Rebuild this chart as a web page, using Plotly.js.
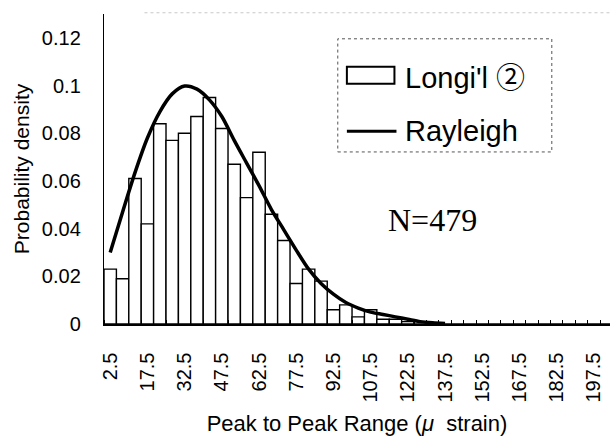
<!DOCTYPE html>
<html>
<head>
<meta charset="utf-8">
<script src="https://cdn.plot.ly/plotly-3.0.1.min.js"></script>
<style>
  html, body { margin: 0; padding: 0; background: #fff; }
  #chart { width: 610px; height: 438px; }
</style>
</head>
<body>
<div id="chart"></div>
<script>
// Bin centres of the peak-to-peak range histogram (micro-strain, 5 wide)
const binCenters = [
  2.5, 7.5, 12.5, 17.5, 22.5, 27.5, 32.5, 37.5, 42.5, 47.5,
  52.5, 57.5, 62.5, 67.5, 72.5, 77.5, 82.5, 87.5, 92.5, 97.5,
  102.5, 107.5, 112.5, 117.5, 122.5, 127.5, 132.5, 137.5, 142.5, 147.5,
  152.5, 157.5, 162.5, 167.5, 172.5, 177.5, 182.5, 187.5, 192.5, 197.5,
  202.5
];

// Measured probability density per bin (Longi'l 2, N=479)
const measuredDensity = [
  0.023, 0.019, 0.061, 0.042, 0.084, 0.077, 0.080, 0.087, 0.095, 0.082,
  0.067, 0.053, 0.072, 0.046, 0.035, 0.017, 0.023, 0.018, 0.006, 0.008,
  0.003, 0.006, 0.002, 0.002, 0.001, 0.001, 0, 0, 0, 0,
  0, 0, 0, 0, 0, 0, 0, 0, 0, 0,
  0
];

// Fitted Rayleigh density at the bin centres
const rayleighX = [
  2.5, 7.5, 12.5, 17.5, 22.5, 27.5, 32.5, 37.5, 42.5, 47.5,
  52.5, 57.5, 62.5, 67.5, 72.5, 77.5, 82.5, 87.5, 92.5, 97.5,
  102.5, 107.5, 112.5, 117.5, 122.5, 127.5, 132.5, 137.5
];
const rayleighDensity = [
  0.030, 0.047, 0.0635, 0.078, 0.089, 0.0965, 0.0998, 0.0985, 0.094, 0.087,
  0.077, 0.0675, 0.058, 0.048, 0.0395, 0.031, 0.023, 0.017, 0.0125, 0.009,
  0.0067, 0.005, 0.004, 0.003, 0.002, 0.001, 0.0005, 0.0002
];

// Labelled ticks on the x axis (every third bin)
const xTickValues = [2.5, 17.5, 32.5, 47.5, 62.5, 77.5, 92.5, 107.5, 122.5, 137.5, 152.5, 167.5, 182.5, 197.5];
const xTickText = ['2.5', '17.5', '32.5', '47.5', '62.5', '77.5', '92.5', '107.5', '122.5', '137.5', '152.5', '167.5', '182.5', '197.5'];

const yTickValues = [0, 0.02, 0.04, 0.06, 0.08, 0.1, 0.12];
const yTickText = ['0', '0.02', '0.04', '0.06', '0.08', '0.1', '0.12'];

const seriesNames = ["Longi'l ②", 'Rayleigh'];

const sans = 'Liberation Sans, Arial, sans-serif';

// The circled digit is set in a CJK face so it sits at full glyph height
function legendLabel(name) {
  return name.replace('②', '<span style="font-family:\'Noto Sans CJK JP\'">②</span>');
}

const traces = [
  {
    type: 'bar',
    name: seriesNames[0],
    x: binCenters,
    y: measuredDensity,
    width: 5,
    marker: { color: '#ffffff', line: { color: '#000000', width: 1.4 } },
    showlegend: false,
    hoverinfo: 'x+y'
  },
  {
    type: 'scatter',
    mode: 'lines',
    name: seriesNames[1],
    x: rayleighX,
    y: rayleighDensity,
    line: { color: '#000000', width: 3.5, shape: 'spline', smoothing: 0.8 },
    showlegend: false
  }
];

// Legend panel (dashed frame, swatch, line sample and labels)
const lgL = 0.462, lgR = 0.885, lgT = 0.92, lgB = 0.555;
const shapes = [
  { type: 'line', xref: 'paper', yref: 'paper', x0: 0.08, x1: 1, y0: 1.004, y1: 1.004,
    line: { color: '#c8c8c8', width: 1, dash: 'dot' } },
  { type: 'rect', xref: 'paper', yref: 'paper', x0: lgL, x1: lgR, y0: lgB, y1: lgT,
    line: { color: '#555555', width: 1, dash: 'dot' }, fillcolor: 'rgba(255,255,255,1)', layer: 'above' },
  { type: 'rect', xref: 'paper', yref: 'paper', x0: 0.480, x1: 0.574, y0: 0.775, y1: 0.83,
    line: { color: '#000000', width: 2 }, fillcolor: '#ffffff', layer: 'above' },
  { type: 'line', xref: 'paper', yref: 'paper', x0: 0.480, x1: 0.578, y0: 0.622, y1: 0.622,
    line: { color: '#000000', width: 3 }, layer: 'above' }
];

const annotations = [
  { xref: 'paper', yref: 'paper', x: 0.59, y: 0.802, xanchor: 'left', yanchor: 'middle',
    text: legendLabel(seriesNames[0]), showarrow: false, font: { family: sans, size: 29, color: '#000' } },
  { xref: 'paper', yref: 'paper', x: 0.59, y: 0.622, xanchor: 'left', yanchor: 'middle',
    text: seriesNames[1], showarrow: false, font: { family: sans, size: 29, color: '#000' } },
  { xref: 'paper', yref: 'paper', x: 0.649, y: 0.335, xanchor: 'center', yanchor: 'middle',
    text: 'N=479', showarrow: false, font: { family: 'Liberation Serif, Times New Roman, serif', size: 32, color: '#000' } }
];

const layout = {
  width: 610,
  height: 438,
  margin: { l: 104, r: 0, t: 14, b: 114 },
  paper_bgcolor: '#ffffff',
  plot_bgcolor: '#ffffff',
  showlegend: false,
  bargap: 0,
  xaxis: {
    type: 'linear',
    range: [0, 204],
    tickmode: 'array',
    tickvals: xTickValues,
    ticktext: xTickText,
    tickangle: -90,
    ticks: '',
    ticklabelstandoff: 19,
    tickfont: { family: sans, size: 20, color: '#000' },
    showgrid: false,
    zeroline: false,
    showline: true,
    linecolor: '#000000',
    linewidth: 1.5,
    minor: { ticks: 'inside', ticklen: 4, tickwidth: 1, tickcolor: '#000', tick0: 0, dtick: 5, showgrid: false },
    title: { text: 'Peak to Peak Range (<i>μ</i>\u00a0 strain)', font: { family: sans, size: 22, color: '#000' }, standoff: 14 }
  },
  yaxis: {
    range: [0, 0.130],
    tickmode: 'array',
    tickvals: yTickValues,
    ticktext: yTickText,
    ticks: '',
    ticklabelstandoff: 18,
    tickfont: { family: sans, size: 20, color: '#000' },
    showgrid: false,
    zeroline: false,
    showline: true,
    linecolor: '#000000',
    linewidth: 1.2,
    title: { text: 'Probability density', font: { family: sans, size: 21, color: '#000' }, standoff: 6 }
  },
  shapes: shapes,
  annotations: annotations
};

Plotly.newPlot('chart', traces, layout, { staticPlot: true, displayModeBar: false });
</script>
</body>
</html>
